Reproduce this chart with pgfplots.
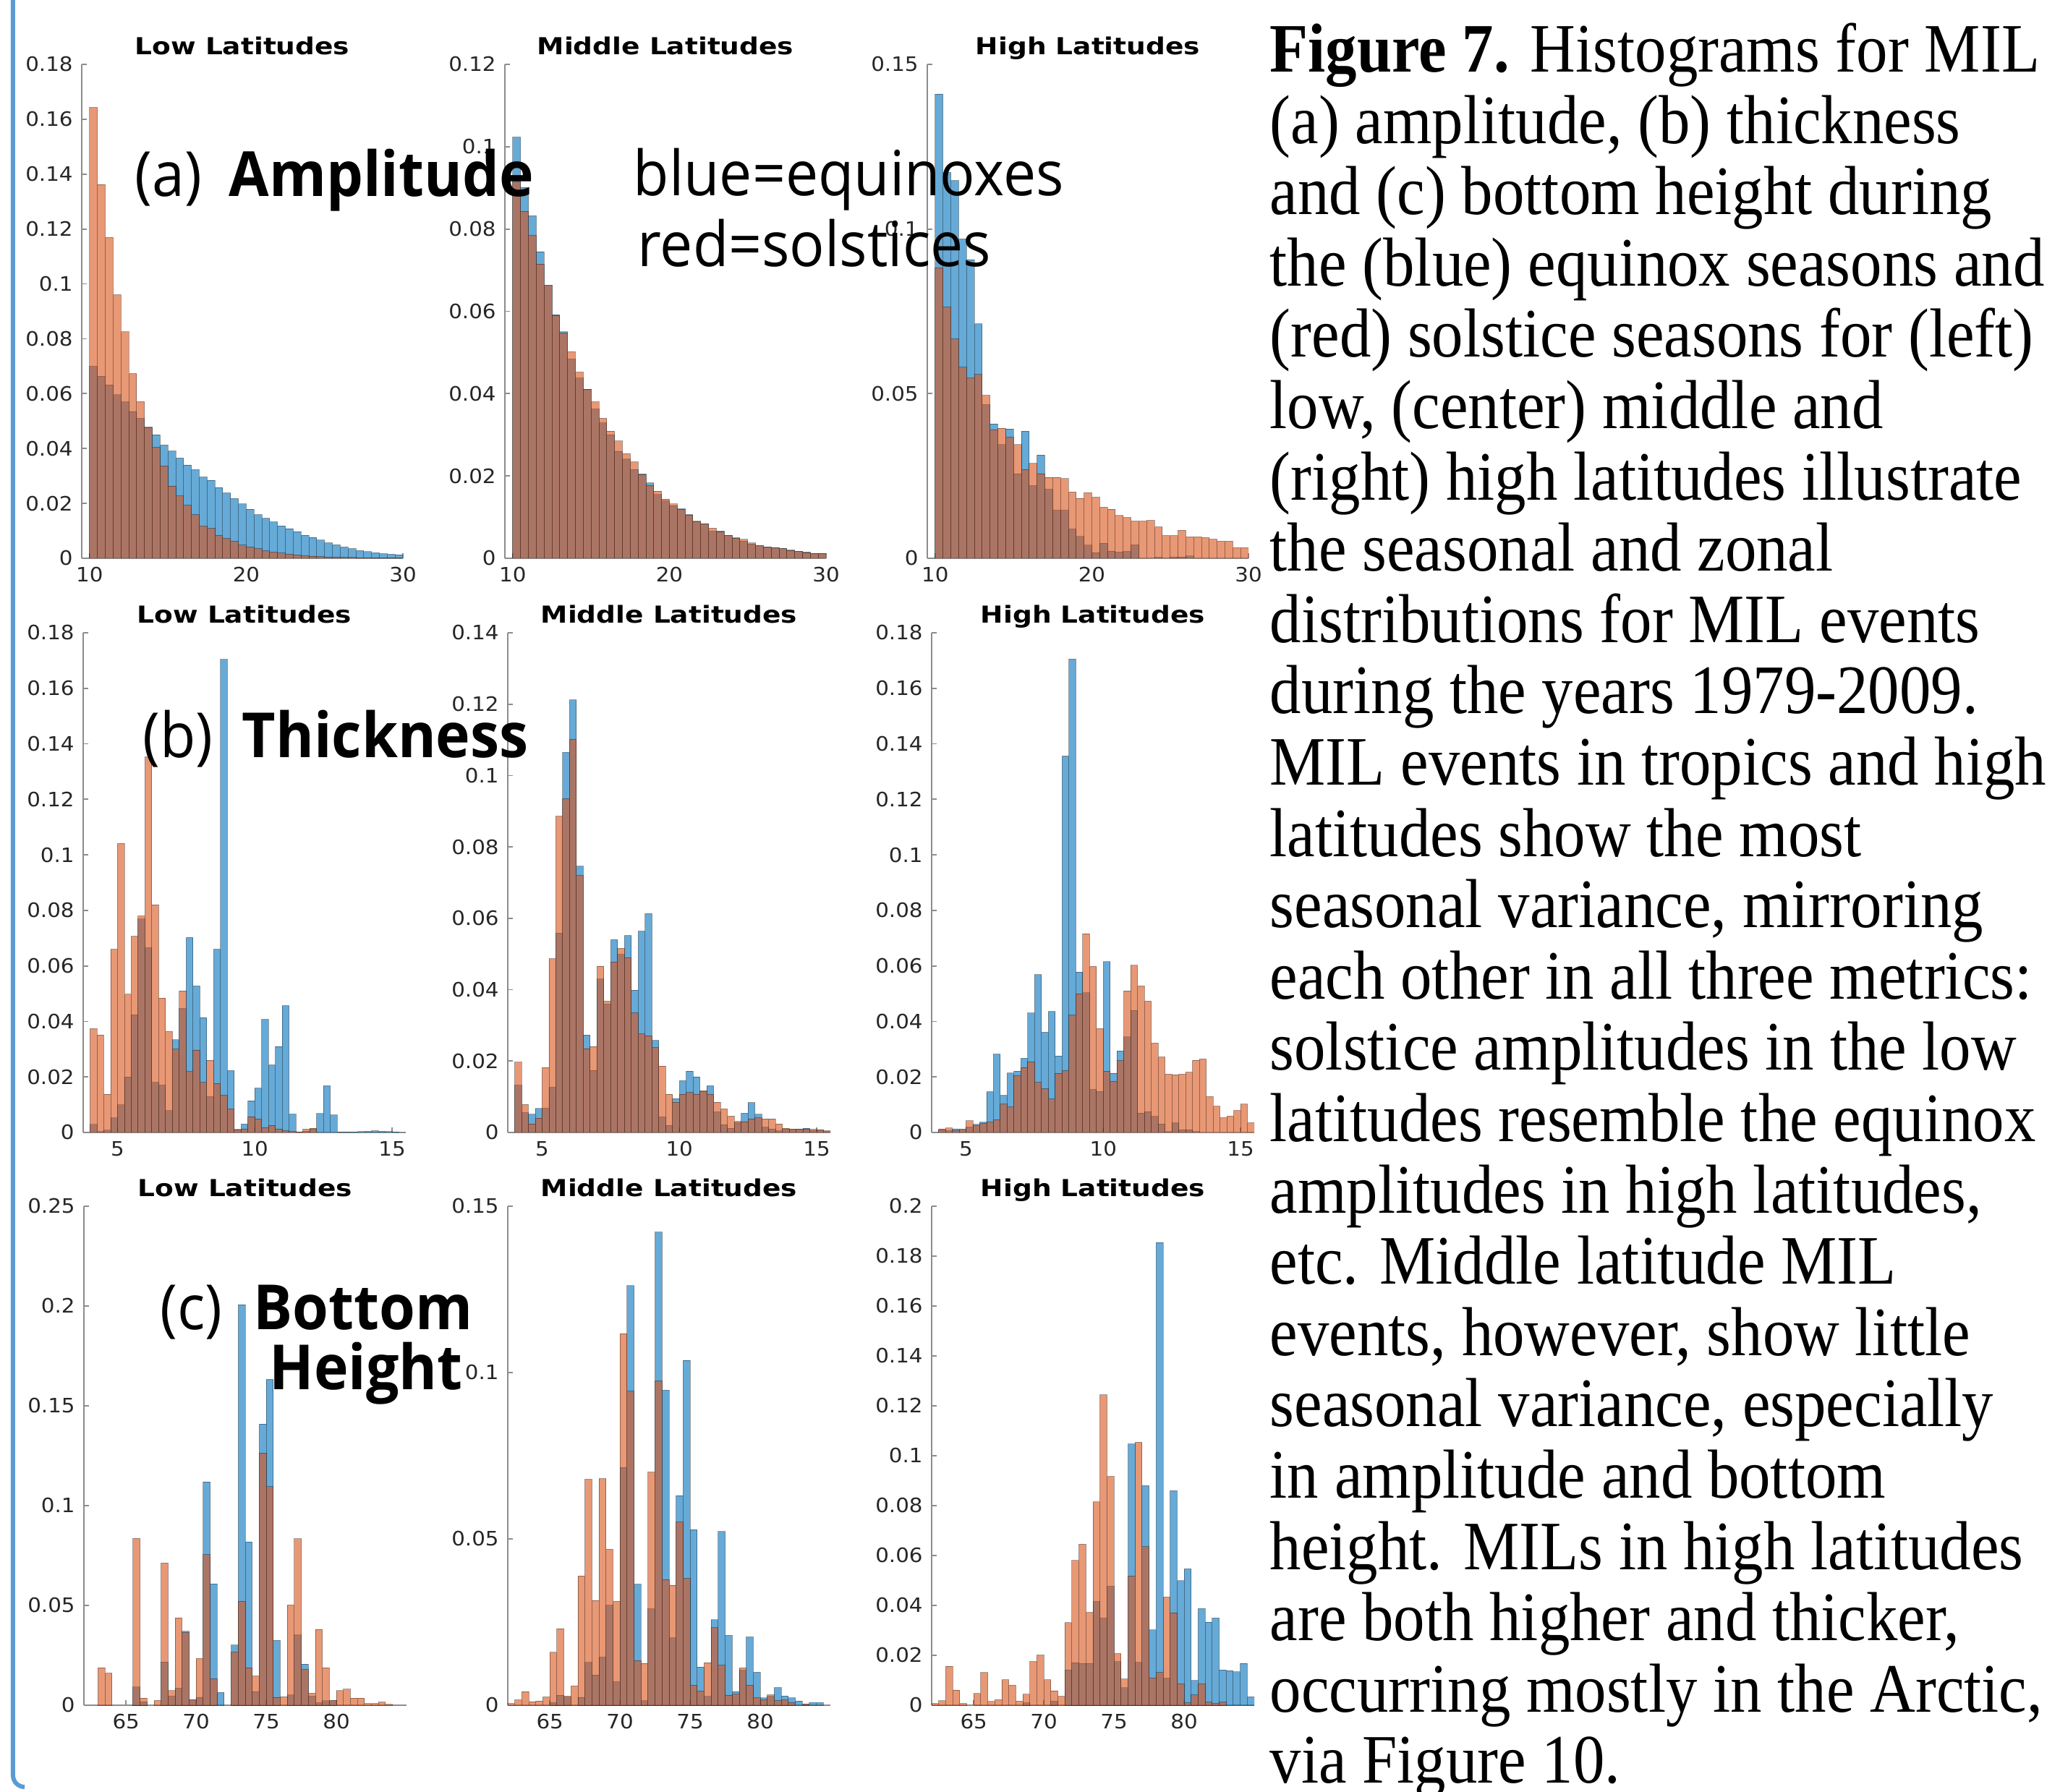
\documentclass[border=0pt]{standalone}
\usepackage{fontspec}
\usepackage{pgfplots}
\usepackage{pgfplotstable}
\pgfplotsset{compat=1.18}
\setmainfont{DejaVu Sans}
\newfontfamily\tickfont[FakeStretch=1.07]{DejaVu Sans}
\newfontfamily\titlefont[FakeStretch=1.16]{DejaVu Sans}
\newfontfamily\labfont[FakeStretch=0.935]{Open Sans}
\newfontfamily\capfont[FakeStretch=0.905]{Liberation Serif}

\definecolor{eqblue}{rgb}{0,0.447,0.741}
\definecolor{solred}{rgb}{0.85,0.325,0.098}
\definecolor{bordblue}{RGB}{91,155,213}
\definecolor{ticktext}{RGB}{38,38,38}

\pgfplotsset{
  hist/.style={
    scale only axis,
    axis x line*=bottom, axis y line*=left,
    axis line style={-, black!45, line width=0.5pt},
    tick align=inside, major tick length=0.07cm,
    every tick/.style={black!45, line width=0.5pt},
    ymin=0, unbounded coords=discard,
    tick label style={font=\tickfont\fontsize{7.8}{9}\selectfont, text=ticktext},
    /pgf/number format/assume math mode=true,
    yticklabel style={/pgf/number format/fixed, /pgf/number format/precision=2},
    scaled y ticks=false, scaled x ticks=false,
    every axis title/.style={at={(0.5,1)}, anchor=base, yshift=0.13cm,
      font=\titlefont\bfseries\fontsize{9.2}{10}\selectfont},
  },
  rowa/.style={hist, width=4.44cm, height=6.83cm, xmin=9.5, xmax=30, xtick={10,20,30}},
  rowb/.style={hist, width=4.46cm, height=6.91cm, xmin=3.75, xmax=15.5, xtick={5,10,15}},
  rowc/.style={hist, width=4.46cm, height=6.90cm, xmin=62, xmax=85, xtick={65,70,75,80}},
  eqbar/.style={ybar, bar shift=0pt, fill=eqblue, fill opacity=0.6,
    draw=black, draw opacity=0.35, line width=0.25pt},
  solbar/.style={eqbar, fill=solred},
}

% (a) amplitude, bins of 0.5
\pgfplotstableread{
x eq sol
10.25 0.0700 0.1643
10.75 0.0664 0.1362
11.25 0.0632 0.1169
11.75 0.0596 0.0960
12.25 0.0570 0.0825
12.75 0.0535 0.0673
13.25 0.0510 0.0571
13.75 0.0478 0.0476
14.25 0.0450 0.0404
14.75 0.0413 0.0336
15.25 0.0391 0.0263
15.75 0.0365 0.0227
16.25 0.0340 0.0193
16.75 0.0323 0.0159
17.25 0.0296 0.0117
17.75 0.0284 0.0109
18.25 0.0258 0.0084
18.75 0.0238 0.0072
19.25 0.0218 0.0062
19.75 0.0198 0.0048
20.25 0.0179 0.0041
20.75 0.0159 0.0035
21.25 0.0146 0.0027
21.75 0.0133 0.0023
22.25 0.0118 0.0019
22.75 0.0108 0.0015
23.25 0.0097 0.0012
23.75 0.0084 0.0009
24.25 0.0076 0.0008
24.75 0.0066 0.0006
25.25 0.0056 0.0005
25.75 0.0049 0.0004
26.25 0.0041 0.0003
26.75 0.0035 0.0003
27.25 0.0028 0.0002
27.75 0.0024 0.0002
28.25 0.0020 0.0001
28.75 0.0017 0.0001
29.25 0.0015 0.0001
29.75 0.0013 0.0001
}\ampLow

\pgfplotstableread{
x eq sol
10.25 0.1023 0.0914
10.75 0.0901 0.0843
11.25 0.0832 0.0784
11.75 0.0745 0.0715
12.25 0.0663 0.0663
12.75 0.0592 0.0590
13.25 0.0550 0.0548
13.75 0.0484 0.0502
14.25 0.0438 0.0452
14.75 0.0411 0.0410
15.25 0.0363 0.0380
15.75 0.0329 0.0340
16.25 0.0300 0.0309
16.75 0.0260 0.0285
17.25 0.0241 0.0254
17.75 0.0216 0.0234
18.25 0.0205 0.0203
18.75 0.0183 0.0177
19.25 0.0155 0.0163
19.75 0.0140 0.0144
20.25 0.0128 0.0132
20.75 0.0120 0.0119
21.25 0.0106 0.0105
21.75 0.0090 0.0089
22.25 0.0084 0.0083
22.75 0.0066 0.0073
23.25 0.0066 0.0065
23.75 0.0056 0.0055
24.25 0.0050 0.0049
24.75 0.0042 0.0046
25.25 0.0035 0.0037
25.75 0.0031 0.0030
26.25 0.0028 0.0027
26.75 0.0026 0.0025
27.25 0.0024 0.0023
27.75 0.0020 0.0019
28.25 0.0017 0.0016
28.75 0.0015 0.0014
29.25 0.0012 0.0012
29.75 0.0012 0.0011
}\ampMid

\pgfplotstableread{
x eq sol
10.25 0.1410 0.0882
10.75 0.1172 0.0763
11.25 0.1147 0.0666
11.75 0.0970 0.0580
12.25 0.0907 0.0547
12.75 0.0712 0.0558
13.25 0.0467 0.0495
13.75 0.0408 0.0390
14.25 0.0345 0.0395
14.75 0.0393 0.0368
15.25 0.0257 0.0345
15.75 0.0386 0.0270
16.25 0.0221 0.0288
16.75 0.0314 0.0257
17.25 0.0210 0.0246
17.75 0.0146 0.0246
18.25 0.0146 0.0242
18.75 0.0089 0.0201
19.25 0.0066 0.0182
19.75 0.0040 0.0199
20.25 0.0017 0.0185
20.75 0.0046 0.0155
21.25 0.0022 0.0149
21.75 0.0019 0.0130
22.25 0.0021 0.0124
22.75 0.0041 0.0113
23.25 nan 0.0113
23.75 nan 0.0115
24.25 0.0003 0.0095
24.75 nan 0.0069
25.25 0.0004 0.0069
25.75 0.0004 0.0085
26.25 0.0007 0.0065
26.75 nan 0.0065
27.25 nan 0.0063
27.75 nan 0.0058
28.25 nan 0.0052
28.75 nan 0.0052
29.25 nan 0.0032
29.75 nan 0.0032
}\ampHigh

% (b) thickness, bins of 0.25
\pgfplotstableread{
x eq sol
4.125 0.0029 0.0374
4.375 0.0003 0.0351
4.625 0.0008 0.0138
4.875 0.0053 0.0660
5.125 0.0100 0.1041
5.375 0.0200 0.0498
5.625 0.0424 0.0707
5.875 0.0769 0.0780
6.125 0.0666 0.1353
6.375 0.0181 0.0820
6.625 0.0171 0.0484
6.875 0.0079 0.0364
7.125 0.0334 0.0300
7.375 0.0447 0.0510
7.625 0.0702 0.0219
7.875 0.0528 0.0297
8.125 0.0414 0.0180
8.375 0.0129 0.0260
8.625 0.0660 0.0177
8.875 0.1704 0.0134
9.125 0.0223 0.0085
9.375 0.0011 0.0010
9.625 0.0030 0.0013
9.875 0.0114 0.0057
10.125 0.0160 0.0049
10.375 0.0407 0.0017
10.625 0.0243 0.0026
10.875 0.0310 0.0013
11.125 0.0457 0.0007
11.375 0.0066 0.0003
11.625 0.0002 0.0002
11.875 0.0005 0.0012
12.125 0.0013 0.0015
12.375 0.0068 nan
12.625 0.0168 nan
12.875 0.0063 nan
13.125 0.0002 nan
13.375 0.0002 nan
13.625 0.0002 nan
13.875 0.0003 nan
14.125 0.0004 nan
14.375 0.0006 nan
14.625 0.0004 nan
14.875 0.0003 nan
15.125 0.0002 nan
}\thkLow

\pgfplotstableread{
x eq sol
4.125 0.0133 0.0197
4.375 0.0056 0.0078
4.625 0.0051 0.0024
4.875 0.0067 0.0040
5.125 0.0068 0.0182
5.375 0.0127 0.0487
5.625 0.0559 0.0886
5.875 0.1065 0.0935
6.125 0.1212 0.1101
6.375 0.0746 0.0720
6.625 0.0273 0.0235
6.875 0.0174 0.0241
7.125 0.0430 0.0466
7.375 0.0360 0.0368
7.625 0.0540 0.0478
7.875 0.0499 0.0516
8.125 0.0552 0.0490
8.375 0.0399 0.0335
8.625 0.0564 0.0276
8.875 0.0613 0.0271
9.125 0.0258 0.0238
9.375 0.0044 0.0186
9.625 0.0020 0.0107
9.875 0.0095 0.0085
10.125 0.0145 0.0107
10.375 0.0172 0.0112
10.625 0.0156 0.0107
10.875 0.0115 0.0117
11.125 0.0131 0.0107
11.375 0.0058 0.0085
11.625 0.0022 0.0066
11.875 0.0012 0.0046
12.125 0.0028 0.0031
12.375 0.0054 0.0030
12.625 0.0084 0.0038
12.875 0.0051 0.0041
13.125 0.0015 0.0038
13.375 0.0010 0.0038
13.625 0.0005 0.0024
13.875 0.0010 0.0012
14.125 0.0009 0.0010
14.375 0.0010 0.0010
14.625 0.0012 0.0010
14.875 0.0006 0.0009
15.125 0.0007 0.0008
15.375 0.0003 0.0005
}\thkMid

\pgfplotstableread{
x eq sol
4.125 0.0010 0.0013
4.375 0.0007 0.0016
4.625 0.0013 0.0007
4.875 0.0011 0.0011
5.125 0.0020 0.0042
5.375 0.0029 0.0024
5.625 0.0037 0.0033
5.875 0.0147 0.0037
6.125 0.0282 0.0046
6.375 0.0134 0.0102
6.625 0.0214 0.0092
6.875 0.0221 0.0204
7.125 0.0267 0.0234
7.375 0.0430 0.0254
7.625 0.0569 0.0180
7.875 0.0361 0.0158
8.125 0.0436 0.0121
8.375 0.0276 0.0213
8.625 0.1356 0.0223
8.875 0.1705 0.0423
9.125 0.0578 0.0500
9.375 0.0503 0.0716
9.625 0.0155 0.0598
9.875 0.0148 0.0374
10.125 0.0615 0.0221
10.375 0.0213 0.0184
10.625 0.0294 0.0259
10.875 0.0344 0.0510
11.125 0.0440 0.0602
11.375 0.0070 0.0528
11.625 0.0075 0.0473
11.875 0.0058 0.0322
12.125 0.0031 0.0272
12.375 0.0003 0.0210
12.625 0.0035 0.0208
12.875 0.0010 0.0210
13.125 0.0010 0.0217
13.375 0.0003 0.0260
13.625 nan 0.0265
13.875 nan 0.0129
14.125 nan 0.0095
14.375 nan 0.0053
14.625 nan 0.0059
14.875 nan 0.0079
15.125 nan 0.0102
15.375 nan 0.0035
}\thkHigh

% (c) bottom height, bins of 0.5
\pgfplotstableread{
x eq sol
63.25 nan 0.0188
63.75 nan 0.0161
65.75 0.0091 0.0836
66.25 0.0018 0.0036
67.25 nan 0.0024
67.75 0.0217 0.0712
68.25 0.0046 0.0073
68.75 0.0086 0.0438
69.25 0.0370 0.0365
69.75 0.0027 0.0027
70.25 0.0040 0.0234
70.75 0.1119 0.0754
71.25 0.0608 0.0133
71.75 0.0064 nan
72.75 0.0301 0.0265
73.25 0.2007 0.0520
73.75 0.0818 0.0188
74.25 0.0068 0.0146
74.75 0.1409 0.1263
75.25 0.1633 0.1095
75.75 0.0325 0.0040
76.25 nan 0.0042
76.75 0.0051 0.0502
77.25 0.0352 0.0834
77.75 0.0206 0.0179
78.25 0.0046 0.0060
78.75 0.0013 0.0380
79.25 0.0022 0.0188
79.75 0.0022 0.0022
80.25 nan 0.0073
80.75 nan 0.0080
81.25 nan 0.0036
81.75 nan 0.0036
82.25 nan 0.0009
82.75 nan 0.0009
83.25 nan 0.0016
83.75 nan 0.0004
}\botLow

\pgfplotstableread{
x eq sol
62.25 nan 0.0005
62.75 nan 0.0016
63.25 nan 0.0041
63.75 nan 0.0011
64.25 nan 0.0013
64.75 nan 0.0025
65.25 0.0008 0.0159
65.75 0.0030 0.0230
66.25 0.0025 0.0027
66.75 nan 0.0058
67.25 0.0024 0.0389
67.75 0.0129 0.0679
68.25 0.0091 0.0315
68.75 0.0145 0.0681
69.25 0.0301 0.0469
69.75 0.0071 0.0312
70.25 0.0715 0.1117
70.75 0.1261 0.0944
71.25 0.0364 0.0134
71.75 0.0014 0.0126
72.25 0.0290 0.0701
72.75 0.1422 0.0975
73.25 0.0947 0.0378
73.75 0.0203 0.0361
74.25 0.0630 0.0551
74.75 0.1037 0.0381
75.25 0.0528 0.0060
75.75 0.0115 0.0042
76.25 0.0027 0.0128
76.75 0.0257 0.0233
77.25 0.0522 0.0120
77.75 0.0210 0.0030
78.25 0.0041 0.0033
78.75 0.0105 0.0112
79.25 0.0205 0.0060
79.75 0.0099 0.0022
80.25 0.0022 0.0016
80.75 0.0027 0.0031
81.25 0.0053 0.0014
81.75 0.0028 0.0016
82.25 0.0022 0.0008
82.75 0.0013 nan
83.25 0.0003 0.0003
83.75 0.0008 nan
84.25 0.0008 nan
}\botMid

\pgfplotstableread{
x eq sol
62.25 nan 0.0007
62.75 nan 0.0018
63.25 nan 0.0156
63.75 nan 0.0061
64.25 nan 0.0007
65.25 nan 0.0047
65.75 nan 0.0131
66.25 nan 0.0015
66.75 nan 0.0022
67.25 nan 0.0102
67.75 nan 0.0080
68.25 nan 0.0016
68.75 0.0010 0.0044
69.25 nan 0.0175
69.75 nan 0.0201
70.25 nan 0.0102
70.75 0.0016 0.0058
71.25 nan 0.0036
71.75 0.0142 0.0331
72.25 0.0171 0.0580
72.75 0.0168 0.0645
73.25 0.0168 0.0372
73.75 0.0416 0.0815
74.25 0.0350 0.1244
74.75 0.0477 0.0917
75.25 0.0175 0.0207
75.75 0.0070 0.0105
76.25 0.1047 0.0518
76.75 0.0172 0.1054
77.25 0.0880 0.0635
77.75 0.0302 0.0109
78.25 0.1855 0.0131
78.75 0.0109 0.0434
79.25 0.0860 0.0371
79.75 0.0499 0.0085
80.25 0.0547 0.0010
80.75 0.0099 0.0041
81.25 0.0387 0.0085
81.75 0.0333 0.0012
82.25 0.0350 0.0006
82.75 0.0142 0.0012
83.25 0.0139 nan
83.75 0.0134 nan
84.25 0.0168 nan
84.75 0.0034 nan
}\botHigh

\begin{document}
\begin{tikzpicture}
\useasboundingbox (0,0) rectangle (28.30,24.77);
\clip (0,0) rectangle (28.30,24.77);

% ---- row (a): amplitude
\begin{axis}[rowa, at={(1.13cm,17.05cm)}, anchor=south west,
  ymax=0.18, ytick={0,0.02,0.04,0.06,0.08,0.1,0.12,0.14,0.16,0.18}, title={Low Latitudes}]
\addplot[eqbar, bar width=0.5] table[x=x, y=eq] {\ampLow};
\addplot[solbar, bar width=0.5] table[x=x, y=sol] {\ampLow};
\end{axis}
\begin{axis}[rowa, at={(6.98cm,17.05cm)}, anchor=south west,
  ymax=0.12, ytick={0,0.02,0.04,0.06,0.08,0.1,0.12}, title={Middle Latitudes}]
\addplot[eqbar, bar width=0.5] table[x=x, y=eq] {\ampMid};
\addplot[solbar, bar width=0.5] table[x=x, y=sol] {\ampMid};
\end{axis}
\begin{axis}[rowa, at={(12.82cm,17.05cm)}, anchor=south west,
  ymax=0.15, ytick={0,0.05,0.1,0.15}, title={High Latitudes}]
\addplot[eqbar, bar width=0.5] table[x=x, y=eq] {\ampHigh};
\addplot[solbar, bar width=0.5] table[x=x, y=sol] {\ampHigh};
\end{axis}

% ---- row (b): thickness
\begin{axis}[rowb, at={(1.15cm,9.11cm)}, anchor=south west,
  ymax=0.18, ytick={0,0.02,0.04,0.06,0.08,0.1,0.12,0.14,0.16,0.18}, title={Low Latitudes}]
\addplot[eqbar, bar width=0.25] table[x=x, y=eq] {\thkLow};
\addplot[solbar, bar width=0.25] table[x=x, y=sol] {\thkLow};
\end{axis}
\begin{axis}[rowb, at={(7.02cm,9.11cm)}, anchor=south west,
  ymax=0.14, ytick={0,0.02,0.04,0.06,0.08,0.1,0.12,0.14}, title={Middle Latitudes}]
\addplot[eqbar, bar width=0.25] table[x=x, y=eq] {\thkMid};
\addplot[solbar, bar width=0.25] table[x=x, y=sol] {\thkMid};
\end{axis}
\begin{axis}[rowb, at={(12.88cm,9.11cm)}, anchor=south west,
  ymax=0.18, ytick={0,0.02,0.04,0.06,0.08,0.1,0.12,0.14,0.16,0.18}, title={High Latitudes}]
\addplot[eqbar, bar width=0.25] table[x=x, y=eq] {\thkHigh};
\addplot[solbar, bar width=0.25] table[x=x, y=sol] {\thkHigh};
\end{axis}

% ---- row (c): bottom height
\begin{axis}[rowc, at={(1.16cm,1.19cm)}, anchor=south west,
  ymax=0.25, ytick={0,0.05,0.1,0.15,0.2,0.25}, title={Low Latitudes}]
\addplot[eqbar, bar width=0.5] table[x=x, y=eq] {\botLow};
\addplot[solbar, bar width=0.5] table[x=x, y=sol] {\botLow};
\end{axis}
\begin{axis}[rowc, at={(7.02cm,1.19cm)}, anchor=south west,
  ymax=0.15, ytick={0,0.05,0.1,0.15}, title={Middle Latitudes}]
\addplot[eqbar, bar width=0.5] table[x=x, y=eq] {\botMid};
\addplot[solbar, bar width=0.5] table[x=x, y=sol] {\botMid};
\end{axis}
\begin{axis}[rowc, at={(12.88cm,1.19cm)}, anchor=south west,
  ymax=0.2, ytick={0,0.02,0.04,0.06,0.08,0.1,0.12,0.14,0.16,0.18,0.2}, title={High Latitudes}]
\addplot[eqbar, bar width=0.5] table[x=x, y=eq] {\botHigh};
\addplot[solbar, bar width=0.5] table[x=x, y=sol] {\botHigh};
\end{axis}

% ---- overlay labels
\begin{scope}[every node/.style={anchor=base west, inner sep=0pt,
    font=\labfont\fontsize{24.5}{26}\selectfont}]
\node at (1.86,22.05) {(a)};
\node at (3.16,22.05) {\textbf{Amplitude}};
\node at (8.75,22.06) {blue=equinoxes};
\node at (8.81,21.08) {red=solstices};
\node at (1.97,14.29) {(b)};
\node at (3.34,14.29) {\textbf{Thickness}};
\node at (2.21,6.38) {(c)};
\node at (3.50,6.38) {\textbf{Bottom}};
\node at (3.72,5.55) {\textbf{Height}};
\end{scope}

% ---- caption
\foreach \t [count=\i] in {
  {\textbf{Figure 7.} Histograms for MIL},
  {(a) amplitude, (b) thickness},
  {and (c) bottom height during},
  {the (blue) equinox seasons and},
  {(red) solstice seasons for (left)},
  {low, (center) middle and},
  {(right) high latitudes illustrate},
  {the seasonal and zonal},
  {distributions for MIL events},
  {during the years 1979-2009.},
  {MIL events in tropics and high},
  {latitudes show the most},
  {seasonal variance, mirroring},
  {each other in all three metrics:},
  {solstice amplitudes in the low},
  {latitudes resemble the equinox},
  {amplitudes in high latitudes,},
  {etc. Middle latitude MIL},
  {events, however, show little},
  {seasonal variance, especially},
  {in amplitude and bottom},
  {height. MILs in high latitudes},
  {are both higher and thicker,},
  {occurring mostly in the Arctic,},
  {via Figure 10.}}
{
  \node[anchor=base west, inner sep=0pt, font=\capfont\fontsize{27.3}{28}\selectfont]
    at (17.55,{24.77-0.996-0.986*(\i-1)}) {\t};
}

% ---- left frame line
\draw[bordblue, line width=0.06cm] (0.18,24.9) -- (0.18,0.22)
  arc[start angle=180, end angle=270, radius=0.16];
\end{tikzpicture}
\end{document}
